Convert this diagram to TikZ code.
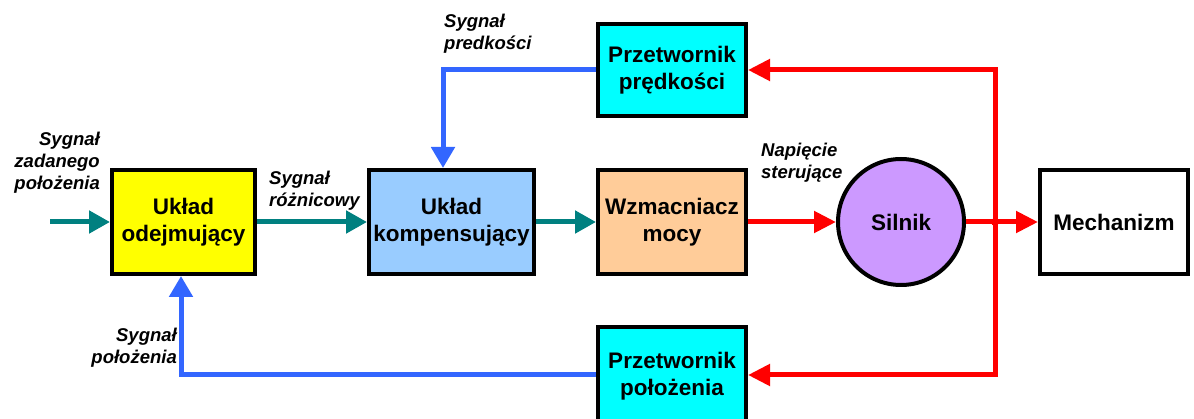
\documentclass[tikz,border=0pt]{standalone}
\usepackage{fontspec}
\setmainfont{Liberation Sans}
\usetikzlibrary{arrows.meta}
\definecolor{cteal}{RGB}{0,128,128}
\definecolor{cblue}{RGB}{51,102,255}
\definecolor{cred}{RGB}{255,0,0}
\definecolor{cyellow}{RGB}{255,255,0}
\definecolor{clblue}{RGB}{153,204,255}
\definecolor{corange}{RGB}{255,204,153}
\definecolor{ccyan}{RGB}{0,255,255}
\definecolor{cpurple}{RGB}{204,153,255}
\begin{document}
\begin{tikzpicture}[x=1pt,y=-1pt,
  blk/.style={draw=black,line width=4pt,inner sep=0pt,align=center,
    font=\fontsize{22.5}{27}\selectfont\bfseries},
  lbl/.style={inner sep=0pt,font=\fontsize{18.5}{22}\selectfont\bfseries\itshape},
  tealarr/.style={draw=cteal,line width=5pt,-{Triangle[length=21pt,width=22pt]}},
  bluearr/.style={draw=cblue,line width=5pt,-{Triangle[length=21pt,width=23pt]}},
  redarr/.style={draw=cred,line width=5pt,-{Triangle[length=22pt,width=21pt]}},
  redline/.style={draw=cred,line width=5pt}
]
\useasboundingbox (0,0) rectangle (1194,419);
\clip (0,0) rectangle (1194,419);

\node[blk,fill=cyellow,minimum width=143pt,minimum height=104pt] (odj) at (183.5,222) {Układ\\odejmujący};
\node[blk,fill=clblue,minimum width=165pt,minimum height=104pt] (komp) at (451.5,222) {Układ\\kompensujący};
\node[blk,fill=corange,minimum width=148pt,minimum height=104pt] (wzm) at (672,222) {Wzmacniacz\\mocy};
\node[blk,fill=ccyan,minimum width=148pt,minimum height=92pt] (ptop) at (672,70) {Przetwornik\\prędkości};
\node[blk,fill=ccyan,minimum width=148pt,minimum height=98pt] (ppol) at (672,376) {Przetwornik\\położenia};
\node[blk,fill=cpurple,circle,minimum size=126pt] (sil) at (901,222) {Silnik};
\node[blk,fill=white,minimum width=148pt,minimum height=104pt] (mech) at (1114,222) {Mechanizm};

\coordinate (in) at (50,222);
\coordinate (j) at (995,222);
\coordinate (bt) at (443,70);
\coordinate (bb) at (181,375);

% teal arrows
\draw[tealarr] (in) -- (odj.west);
\draw[tealarr] (odj.east) -- (komp.west);
\draw[tealarr] (komp.east) -- (wzm.west);

% red
\draw[redarr] (wzm.east) -- (sil.west);
\draw[redarr] (sil.east) -- (mech.west);
\draw[redarr] (j) |- (ptop.east);
\draw[redarr] (j) |- (ppol.east |- bb);
\fill[cred] (j) circle (4pt);

% blue
\draw[bluearr] (ptop.west) -| (komp.north -| bt);
\draw[bluearr] (ppol.west |- bb) -| (odj.south -| bb);

% labels
\node[lbl,align=right,anchor=east] (l1) at (100,163) {Sygnał\\zadanego\\położenia};
\node[lbl,align=left,anchor=west] (l2) at (269,191) {Sygnał\\różnicowy};
\node[lbl,align=left,anchor=west] (l3) at (444,34) {Sygnał\\predkości};
\node[lbl,align=left,anchor=west] (l4) at (761,163) {Napięcie\\sterujące};
\node[lbl,align=right,anchor=east] (l5) at (177,348) {Sygnał\\położenia};
\end{tikzpicture}
\end{document}
